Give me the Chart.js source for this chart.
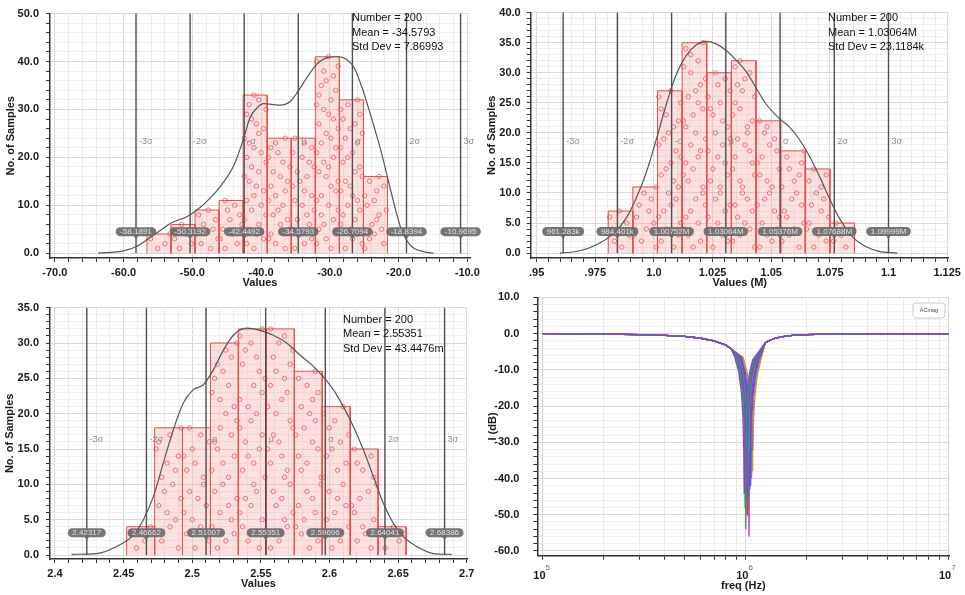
<!DOCTYPE html>
<html lang="en">
<head>
<meta charset="UTF-8" />
<title>Monte Carlo results</title>
<script src="https://cdn.jsdelivr.net/npm/chart.js"></script>
<style>
  html, body { margin: 0; padding: 0; background: #fff; }
  #wrap { position: relative; width: 965px; height: 595px; }
  #wrap canvas { position: absolute; left: 0; top: 0; }
</style>
</head>
<body>
<div id="wrap">
  <canvas id="h1" width="965" height="595"></canvas>
  <canvas id="h2" width="965" height="595"></canvas>
  <canvas id="h3" width="965" height="595"></canvas>
  <canvas id="ac" width="965" height="595"></canvas>
</div>

<script>
// ---------------- data: top left histogram ----------------
const h1Edges  = [-56.6, -53.1, -49.6, -46.1, -42.6, -39.1, -35.6, -32.1, -28.6, -25.1, -21.6];
const h1Counts = [4, 6, 9, 11, 33, 24, 24, 41, 32, 16];
// one digit per sample: where it sits inside its bin (0 = left .. 9 = right)
const h1Spots  = ["4719", "38160 4", "62907 3815", "27051 94836 2",
  "41852 60937 14852 06391 74206 85319 264", "73019 58246 03718 52960 4137",
  "15830 72694 18503 62974 0851", "60481 37295 02869 41537 08264 91753 06182 47390 5",
  "29574 06183 75042 96813 50729 46180 37", "08247 35691 40582 6"];
const h1CurveX = [-63.7, -60.0, -58.1, -56.6, -54.7, -53.1, -50.8, -49.4, -47.4, -46.0, -44.0, -42.6, -41.6,
  -40.6, -39.6, -38.7, -37.2, -35.7, -34.8, -33.3, -31.9, -30.4, -28.9, -28.0, -26.5, -25.1, -24.1, -22.6,
  -21.2, -19.7, -18.3, -16.3, -14.9];
const h1CurveY = [0, 0.5, 1.4, 2.8, 4.7, 6.3, 7.6, 8.9, 11.5, 13.8, 18.2, 23.6, 28.3, 30.3, 31.2, 31.1, 30.9,
  31.7, 33.4, 36.7, 39.4, 40.8, 41.0, 40.8, 38.8, 33.7, 29.0, 21.6, 13.5, 5.4, 1.7, 0.3, 0];
const h1Sigma  = [-58.1891, -50.3192, -42.4492, -34.5793, -26.7094, -18.8394, -10.9695];
const h1Tags   = ["-58.1891", "-50.3192", "-42.4492", "-34.5793", "-26.7094", "-18.8394", "-10.9695"];
const h1Info   = ["Number = 200", "Mean = -34.5793", "Std Dev = 7.86993"];
const h1XMajor = [-70, -60, -50, -40, -30, -20, -10];
const h1XLabels = ["-70.0", "-60.0", "-50.0", "-40.0", "-30.0", "-20.0", "-10.0"];
const h1YMajor = [0, 10, 20, 30, 40, 50];

// ---------------- data: top right histogram (M) ----------------
const h2Edges  = [0.9805, 0.9910, 1.0015, 1.0120, 1.0225, 1.0330, 1.0435, 1.0540, 1.0645, 1.0750, 1.0855];
const h2Counts = [7, 11, 27, 35, 30, 32, 22, 17, 14, 5];
const h2Spots  = ["52817 04", "93058 16274 9", "61839 02574 86135 97024 68319 05",
  "47206 13958 82041 67395 10486 25793 06318", "28614 07935 51827 40693 86215 09473",
  "90375 28164 43908 17526 68031 94257 13", "16482 97035 64190 28573 41",
  "70359 21846 05738 29", "38501 96274 6183", "61492"];
const h2CurveX = [0.9599, 0.9684, 0.9755, 0.9826, 0.9883, 0.9925, 0.9968, 1.0010, 1.0053, 1.0095, 1.0138,
  1.0180, 1.0223, 1.0265, 1.0308, 1.0350, 1.0393, 1.0435, 1.0478, 1.0534, 1.0577, 1.0620, 1.0662, 1.0704,
  1.0747, 1.0789, 1.0846, 1.0903, 1.0959, 1.1037];
const h2CurveY = [0, 0.4, 1.4, 3.2, 5.9, 9.2, 13.5, 18.9, 24.8, 29.7, 32.9, 34.6, 35.2, 34.8, 33.7, 32.1,
  30.2, 27.5, 24.8, 22.4, 21.0, 18.9, 16.2, 12.9, 9.2, 5.9, 2.7, 1.1, 0.3, 0];
const h2Sigma  = [0.961283, 0.984401, 1.00752, 1.03064, 1.05376, 1.07688, 1.09999];
const h2Tags   = ["961.283k", "984.401k", "1.00752M", "1.03064M", "1.05376M", "1.07688M", "1.09999M"];
const h2Info   = ["Number = 200", "Mean = 1.03064M", "Std Dev = 23.1184k"];
const h2XMajor = [0.95, 0.975, 1.0, 1.025, 1.05, 1.075, 1.1, 1.125];
const h2XLabels = [".95", ".975", "1.0", "1.025", "1.05", "1.075", "1.1", "1.125"];
const h2YMajor = [0, 5, 10, 15, 20, 25, 30, 35, 40];

// ---------------- data: bottom left histogram ----------------
const h3Edges  = [2.4522, 2.4726, 2.4929, 2.5133, 2.5336, 2.5540, 2.5744, 2.5947, 2.6151, 2.6354, 2.6558];
const h3Counts = [4, 18, 18, 30, 32, 32, 26, 21, 15, 4];
const h3Spots  = ["3618", "82057 41936 27480 159", "49163 08527 71403 962",
  "25807 36914 60482 17395 83061 42759", "73918 04265 91537 28046 30859 71624 08",
  "14076 93528 67150 42983 05716 38294 61", "58203 71649 92418 60375 26841 7",
  "36091 48527 05813 69240 7", "72548 10369 84271", "2795"];
const h3CurveX = [2.4121, 2.4304, 2.4449, 2.4571, 2.4644, 2.4717, 2.4789, 2.4862, 2.4935, 2.5008, 2.5081,
  2.5154, 2.5227, 2.5300, 2.5397, 2.5494, 2.5591, 2.5688, 2.5785, 2.5883, 2.5955, 2.6028, 2.6101, 2.6174,
  2.6247, 2.6320, 2.6393, 2.6465, 2.6538, 2.6636, 2.6757, 2.6890];
const h3CurveY = [0.1, 0.2, 1.2, 2.8, 5.0, 8.3, 13.0, 17.7, 21.5, 23.4, 24.1, 26.2, 29.0, 31.1, 32.1, 31.8,
  31.1, 30.0, 28.3, 26.7, 25.2, 23.4, 21.0, 18.2, 14.9, 11.1, 7.3, 4.5, 2.6, 1.2, 0.2, 0.1];
const h3Sigma  = [2.42317, 2.46662, 2.51007, 2.55351, 2.59696, 2.64041, 2.68386];
const h3Tags   = ["2.42317", "2.46662", "2.51007", "2.55351", "2.59696", "2.64041", "2.68386"];
const h3Info   = ["Number = 200", "Mean = 2.55351", "Std Dev = 43.4476m"];
const h3XMajor = [2.4, 2.45, 2.5, 2.55, 2.6, 2.65, 2.7];
const h3XLabels = ["2.4", "2.45", "2.5", "2.55", "2.6", "2.65", "2.7"];
const h3YMajor = [0, 5, 10, 15, 20, 25, 30, 35];

const sigmaNames = ["-3σ", "-2σ", "-σ", "μ", "σ", "2σ", "3σ"];

// ---------------- data: bottom right AC sweep ----------------
const notchLowKHz  = [100, 150, 200, 300, 400, 500, 600, 700, 800, 850];
const notchLowDb   = [-0.05, -0.08, -0.15, -0.3, -0.5, -0.8, -1.3, -2.0, -3.2, -4.2];
const notchInDb    = [-6.6, -10.6, -16.4, -22.5, -32];
const notchOutDb   = [-32, -22.6, -16.7, -11.1, -7.3];
const notchHighKHz = [1250, 1300, 1400, 1500, 1700, 2000, 2500, 3000, 5000, 10000];
const notchHighDb  = [-2.6, -2.0, -1.3, -0.9, -0.5, -0.3, -0.15, -0.1, -0.03, 0];
const notchKHz = [
  [886.5, 925.9, 955.5, 970.2, 980.1, 985, 989.9, 999.8, 1014.6, 1044.1, 1083.5],
  [895.5, 935.3, 965.2, 980.1, 990.0, 995, 1000.0, 1009.9, 1024.9, 1054.7, 1094.5],
  [902.7, 942.8, 972.9, 988.0, 998.0, 1003, 1008.0, 1018.0, 1033.1, 1063.2, 1103.3],
  [909.0, 949.4, 979.7, 994.9, 1005.0, 1010, 1015.1, 1025.2, 1040.3, 1070.6, 1111.0],
  [916.2, 956.9, 987.5, 1002.7, 1012.9, 1018, 1023.1, 1033.3, 1048.5, 1079.1, 1119.8],
  [922.5, 963.5, 994.3, 1009.6, 1019.9, 1025, 1030.1, 1040.4, 1055.8, 1086.5, 1127.5],
  [928.8, 970.1, 1001.0, 1016.5, 1026.8, 1032, 1037.2, 1047.5, 1063.0, 1093.9, 1135.2],
  [936.0, 977.6, 1008.8, 1024.4, 1034.8, 1040, 1045.2, 1055.6, 1071.2, 1102.4, 1144.0],
  [945.0, 987.0, 1018.5, 1034.3, 1044.8, 1050, 1055.3, 1065.8, 1081.5, 1113.0, 1155.0],
  [954.0, 996.4, 1028.2, 1044.1, 1054.7, 1060, 1065.3, 1075.9, 1091.8, 1123.6, 1166.0],
  [964.8, 1007.7, 1039.8, 1055.9, 1066.6, 1072, 1077.4, 1088.1, 1104.2, 1136.3, 1179.2],
  [973.8, 1017.1, 1049.5, 1065.8, 1076.6, 1082, 1087.4, 1098.2, 1114.5, 1146.9, 1190.2]
];
const notchDepth  = [-44, -48, -54, -46, -50, -47, -45, -56, -43, -42, -40, -38];
const traceColors = ["#9b34e8", "#2aa84a", "#1e9e58", "#3468f0", "#e0352d", "#1ab0c8",
                     "#8a3ef2", "#b02cea", "#2f60dc", "#9040e0", "#a8a62c", "#d88a30"];
const freqTicks = [1e5, 2e5, 3e5, 4e5, 5e5, 6e5, 7e5, 8e5, 9e5, 1e6, 2e6, 3e6, 4e6, 5e6, 6e6, 7e6, 8e6, 9e6, 1e7];
const freqDecades = [1e5, 1e6, 1e7];
const freqExp = ["5", "6", "7"];
const dbMajor = [-60, -50, -40, -30, -20, -10, 0, 10];

// helpers ----------------------------------------------------
const FAMILY = '"Liberation Sans", Arial, sans-serif';
const TICK_FONT = { family: FAMILY, size: 11, weight: 'bold' };
const INK = '#1a1a1a';

function steps(min, max, step) {
  const out = [], n = Math.round((max - min) / step);
  for (let i = 0; i <= n; i++) out.push(+(min + i * step).toFixed(6));
  return out;
}
const near = (list, v) => list.findIndex(m => Math.abs(m - v) < 1e-7);
const gridCol = majors => c => (c.tick && near(majors, c.tick.value) >= 0) ? '#d9d9d9' : '#ededed';

function layoutFor(b) {
  return { padding: { left: b.l - b.yw, right: 965 - b.r, top: b.t, bottom: 595 - b.b - b.xh } };
}

// sigma lines, value tags and stats text --------------------
function histDecor(sigma, tags, info, infoX, infoY) {
  return {
    id: 'histDecor',
    afterDatasetsDraw(chart) {
      const { ctx, chartArea: a, scales: { x, y } } = chart;
      const y0 = y.getPixelForValue(0);
      ctx.save();
      sigma.forEach((v, i) => {
        const px = x.getPixelForValue(v);
        ctx.strokeStyle = '#4f4f4f';
        ctx.lineWidth = 1.4;
        ctx.beginPath(); ctx.moveTo(px, a.top); ctx.lineTo(px, y0); ctx.stroke();

        ctx.fillStyle = '#8c8c8c';
        ctx.font = '9px ' + FAMILY;
        ctx.textAlign = 'left'; ctx.textBaseline = 'middle';
        ctx.fillText(sigmaNames[i], px + 3, a.top + 0.535 * (y0 - a.top));

        const by = a.top + 0.91 * (y0 - a.top);
        ctx.font = '8px ' + FAMILY;
        const w = ctx.measureText(tags[i]).width + 9;
        ctx.fillStyle = 'rgba(105,105,105,0.92)';
        ctx.beginPath(); ctx.roundRect(px - w / 2, by - 4.5, w, 9, 4.5); ctx.fill();
        ctx.beginPath(); ctx.moveTo(px - 2.5, by + 4); ctx.lineTo(px + 2.5, by + 4); ctx.lineTo(px, by + 7.5); ctx.fill();
        ctx.fillStyle = '#e4e4e4';
        ctx.textAlign = 'center';
        ctx.fillText(tags[i], px, by + 0.5);
      });
      ctx.fillStyle = '#111';
      ctx.font = '11px ' + FAMILY;
      ctx.textAlign = 'left'; ctx.textBaseline = 'middle';
      info.forEach((t, i) => ctx.fillText(t, infoX, infoY + i * 14.5));
      ctx.restore();
    }
  };
}

function histogram(id, h, box) {
  // each bin is a closed outline from its two edges and its count
  const bins = h.counts.map((c, i) => ({
    type: 'line',
    data: [{ x: h.edges[i], y: 0 }, { x: h.edges[i], y: c }, { x: h.edges[i + 1], y: c }, { x: h.edges[i + 1], y: 0 }],
    borderColor: '#ec4c4c', borderWidth: 1, backgroundColor: 'rgba(248,160,160,0.32)',
    fill: 'origin', pointRadius: 0, tension: 0, order: 3
  }));
  const spots = [];
  h.spots.forEach((s, b) => {
    const w = h.edges[b + 1] - h.edges[b];
    s.replace(/ /g, '').split('').forEach((d, k) =>
      spots.push({ x: h.edges[b] + (Number(d) + 0.5) / 10 * w, y: k + 1 }));
  });
  const curve = h.curveX.map((x, i) => ({ x, y: h.curveY[i] }));
  const xt = steps(h.xMajor[0], h.xMajor[h.xMajor.length - 1], h.xStep);
  const yt = steps(0, h.yMajor[h.yMajor.length - 1], h.yStep);

  return new Chart(document.getElementById(id), {
    type: 'scatter',
    data: { datasets: [
      { type: 'line', data: curve, borderColor: '#555', borderWidth: 1.2, pointRadius: 0,
        cubicInterpolationMode: 'monotone', order: 1 },
      { type: 'scatter', data: spots, pointStyle: 'circle', pointRadius: 2.2, borderWidth: 0.9,
        borderColor: 'rgba(236,82,82,0.85)', backgroundColor: 'rgba(0,0,0,0)', order: 2 },
      ...bins
    ]},
    options: {
      responsive: false, animation: false, events: [],
      layout: layoutFor(box),
      plugins: { legend: { display: false }, tooltip: { enabled: false } },
      scales: {
        x: {
          type: 'linear', min: h.xMin, max: h.xMax, offset: false, bounds: 'data',
          afterBuildTicks: s => { s.ticks = xt.map(value => ({ value })); },
          afterFit: s => { s.height = box.xh; },
          ticks: { autoSkip: false, maxRotation: 0, padding: 4, color: INK, font: TICK_FONT,
                   callback: v => { const i = near(h.xMajor, v); return i >= 0 ? h.xLabels[i] : ''; } },
          grid: { color: gridCol(h.xMajor), tickColor: '#333', tickLength: 4 },
          border: { color: '#333', width: 1.5 },
          title: { display: true, text: h.xTitle, padding: 0, color: INK, font: TICK_FONT }
        },
        y: {
          min: h.yMin, max: h.yMajor[h.yMajor.length - 1], bounds: 'data',
          afterBuildTicks: s => { s.ticks = yt.map(value => ({ value })); },
          afterFit: s => { s.width = box.yw; },
          ticks: { autoSkip: false, padding: box.yPad, color: INK, font: TICK_FONT,
                   callback: v => near(h.yMajor, v) >= 0 ? v.toFixed(1) : '' },
          grid: { color: gridCol(h.yMajor), tickColor: '#333', tickLength: 4 },
          border: { color: '#333', width: 1.5 },
          title: { display: true, text: 'No. of Samples', padding: 0, color: INK, font: TICK_FONT }
        }
      }
    },
    plugins: [histDecor(h.sigma, h.tags, h.info, box.infoX, box.infoY)]
  });
}

// ---------------- histograms ----------------
histogram('h1', {
  edges: h1Edges, counts: h1Counts, spots: h1Spots, curveX: h1CurveX, curveY: h1CurveY,
  sigma: h1Sigma, tags: h1Tags, info: h1Info, xMajor: h1XMajor, xLabels: h1XLabels, yMajor: h1YMajor,
  xStep: 2, yStep: 2, xMin: -70.7, xMax: -9.6, yMin: -1, xTitle: 'Values'
}, { l: 50, r: 470, t: 6, b: 258, yw: 46, xh: 31.6, yPad: 7, infoX: 352, infoY: 18 });

histogram('h2', {
  edges: h2Edges, counts: h2Counts, spots: h2Spots, curveX: h2CurveX, curveY: h2CurveY,
  sigma: h2Sigma, tags: h2Tags, info: h2Info, xMajor: h2XMajor, xLabels: h2XLabels, yMajor: h2YMajor,
  xStep: 0.005, yStep: 1, xMin: 0.94745, xMax: 1.12572, yMin: -0.81, xTitle: 'Values (M)'
}, { l: 530.7, r: 950, t: 6, b: 258, yw: 45.6, xh: 31.6, yPad: 6, infoX: 828, infoY: 18 });

histogram('h3', {
  edges: h3Edges, counts: h3Counts, spots: h3Spots, curveX: h3CurveX, curveY: h3CurveY,
  sigma: h3Sigma, tags: h3Tags, info: h3Info, xMajor: h3XMajor, xLabels: h3XLabels, yMajor: h3YMajor,
  xStep: 0.01, yStep: 1, xMin: 2.39636, xMax: 2.7002, yMin: -0.566, xTitle: 'Values'
}, { l: 50, r: 467, t: 307.7, b: 559, yw: 46.6, xh: 31.9, yPad: 7, infoX: 343, infoY: 319.5 });

// ---------------- AC magnitude sweep ----------------
const acBox = { l: 537.3, r: 949.3, t: 297.3, b: 555.7, yw: 50.6, xh: 36.9 };
const traces = notchKHz.map((mid, i) => {
  const fk = notchLowKHz.concat(mid, notchHighKHz);
  const db = notchLowDb.concat(notchInDb, [notchDepth[i]], notchOutDb, notchHighDb);
  return { data: fk.map((f, j) => ({ x: f * 1000, y: db[j] })), borderColor: traceColors[i],
           borderWidth: 1.3, pointRadius: 0, tension: 0 };
});

const acDecor = {
  id: 'acDecor',
  afterDraw(chart) {
    const { ctx, scales: { x } } = chart;
    ctx.save();
    ctx.textBaseline = 'middle'; ctx.textAlign = 'left';
    freqDecades.forEach((f, i) => {
      const px = x.getPixelForValue(f);
      ctx.font = 'bold 11px ' + FAMILY;
      const w1 = ctx.measureText('10').width;
      ctx.font = '8px ' + FAMILY;
      const w2 = ctx.measureText(freqExp[i]).width;
      const left = px - (w1 + w2) / 2 - 1;
      ctx.font = 'bold 11px ' + FAMILY; ctx.fillStyle = INK;
      ctx.fillText('10', left, 575.5);
      ctx.font = '8px ' + FAMILY; ctx.fillStyle = '#666';
      ctx.fillText(freqExp[i], left + w1, 567.5);
    });
    // legend chip
    ctx.fillStyle = '#fff'; ctx.strokeStyle = '#c9c9c9'; ctx.lineWidth = 1;
    ctx.beginPath(); ctx.roundRect(913, 303, 32, 15, 3); ctx.fill(); ctx.stroke();
    ctx.fillStyle = '#444'; ctx.font = '5.5px ' + FAMILY; ctx.textAlign = 'center';
    ctx.fillText('ACmag', 929, 310.5);
    ctx.restore();
  }
};

new Chart(document.getElementById('ac'), {
  type: 'line',
  data: { datasets: traces },
  options: {
    responsive: false, animation: false, events: [],
    layout: layoutFor(acBox),
    plugins: { legend: { display: false }, tooltip: { enabled: false } },
    scales: {
      x: {
        type: 'logarithmic', min: 94050, max: 1.0114e7,
        afterBuildTicks: s => { s.ticks = freqTicks.map(value => ({ value })); },
        afterFit: s => { s.height = acBox.xh; },
        ticks: { autoSkip: false, maxRotation: 0, callback: () => '' },
        grid: { color: c => (c.tick && near(freqDecades, c.tick.value) >= 0) ? '#d4d4d4' : '#e9e9e9',
                tickColor: '#333', tickLength: 4 },
        border: { color: '#333', width: 1.5 },
        title: { display: true, text: 'freq (Hz)', padding: 0, color: INK, font: TICK_FONT }
      },
      y: {
        type: 'linear', min: -61.3, max: 10, bounds: 'data',
        afterBuildTicks: s => { s.ticks = steps(-60, 10, 2).map(value => ({ value })); },
        afterFit: s => { s.width = acBox.yw; },
        ticks: { autoSkip: false, padding: 14, color: INK, font: TICK_FONT,
                 callback: v => near(dbMajor, v) >= 0 ? v.toFixed(1) : '' },
        grid: { color: gridCol(dbMajor), tickColor: '#333', tickLength: 4 },
        border: { color: '#333', width: 1.5 },
        title: { display: true, text: 'I (dB)', padding: 0, color: INK, font: TICK_FONT }
      }
    }
  },
  plugins: [acDecor]
});
</script>
</body>
</html>
